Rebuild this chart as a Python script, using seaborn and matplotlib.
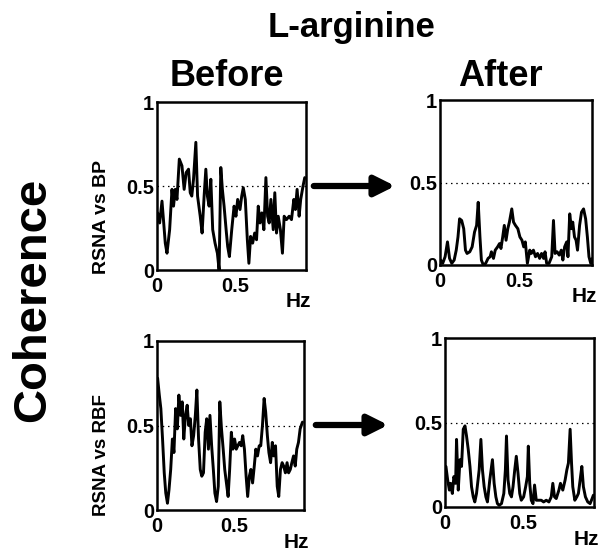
import numpy as np
import pandas as pd
import matplotlib
matplotlib.use("Agg")
import matplotlib.pyplot as plt
from matplotlib.patches import FancyArrowPatch
import seaborn as sns

# ---------------- data ----------------
freq_bp_before = [0.004, 0.017, 0.032, 0.043, 0.053, 0.064, 0.081, 0.096, 0.106, 0.117,
                  0.128, 0.143, 0.160, 0.174, 0.187, 0.202, 0.213, 0.223, 0.234, 0.249,
                  0.260, 0.277, 0.289, 0.302, 0.313, 0.323, 0.334, 0.345, 0.357, 0.372,
                  0.387, 0.398, 0.409, 0.419, 0.430, 0.443, 0.453, 0.464, 0.479, 0.494,
                  0.506, 0.517, 0.532, 0.543, 0.553, 0.566, 0.579, 0.589, 0.600, 0.613,
                  0.626, 0.638, 0.649, 0.660, 0.672, 0.685, 0.698, 0.709, 0.719, 0.730,
                  0.745, 0.755, 0.766, 0.777, 0.791, 0.804, 0.815, 0.830, 0.847, 0.862,
                  0.877, 0.887, 0.898, 0.911, 0.921, 0.936, 0.947]
coh_bp_before = [0.34, 0.28, 0.41, 0.28, 0.16, 0.10, 0.24, 0.48, 0.38, 0.48,
                 0.42, 0.66, 0.62, 0.48, 0.58, 0.60, 0.46, 0.44, 0.54, 0.76,
                 0.44, 0.32, 0.22, 0.44, 0.60, 0.44, 0.38, 0.54, 0.24, 0.16,
                 0.10, 0.00, 0.61, 0.48, 0.38, 0.24, 0.14, 0.08, 0.24, 0.38,
                 0.32, 0.42, 0.36, 0.44, 0.49, 0.42, 0.18, 0.04, 0.20, 0.16,
                 0.22, 0.18, 0.38, 0.28, 0.34, 0.24, 0.55, 0.32, 0.28, 0.42,
                 0.24, 0.46, 0.22, 0.32, 0.24, 0.10, 0.32, 0.30, 0.32, 0.30,
                 0.42, 0.36, 0.48, 0.32, 0.42, 0.50, 0.55]

freq_bp_after = [0.004, 0.017, 0.032, 0.047, 0.060, 0.074, 0.089, 0.102, 0.113, 0.123,
                 0.136, 0.149, 0.160, 0.170, 0.187, 0.202, 0.217, 0.230, 0.240, 0.251,
                 0.260, 0.272, 0.287, 0.302, 0.315, 0.323, 0.336, 0.347, 0.362, 0.374,
                 0.383, 0.394, 0.404, 0.415, 0.426, 0.436, 0.451, 0.462, 0.474, 0.489,
                 0.502, 0.515, 0.526, 0.536, 0.549, 0.564, 0.574, 0.587, 0.600, 0.613,
                 0.626, 0.638, 0.651, 0.660, 0.670, 0.685, 0.702, 0.713, 0.723, 0.736,
                 0.749, 0.762, 0.772, 0.783, 0.796, 0.804, 0.815, 0.826, 0.834, 0.845,
                 0.855, 0.864, 0.877, 0.889, 0.902, 0.915, 0.926, 0.936, 0.947, 0.957]
coh_bp_after = [0.03, 0.01, 0.05, 0.14, 0.04, 0.01, 0.03, 0.09, 0.17, 0.28,
                0.27, 0.22, 0.09, 0.07, 0.08, 0.11, 0.20, 0.24, 0.38, 0.17,
                0.03, 0.00, 0.01, 0.04, 0.05, 0.08, 0.04, 0.09, 0.11, 0.13,
                0.10, 0.17, 0.24, 0.15, 0.22, 0.26, 0.34, 0.26, 0.24, 0.22,
                0.17, 0.15, 0.11, 0.14, 0.01, 0.09, 0.07, 0.09, 0.05, 0.07,
                0.04, 0.07, 0.04, 0.08, 0.01, 0.01, 0.05, 0.27, 0.07, 0.08,
                0.06, 0.09, 0.03, 0.11, 0.14, 0.05, 0.31, 0.22, 0.26, 0.17,
                0.15, 0.09, 0.24, 0.32, 0.34, 0.28, 0.17, 0.05, 0.01, 0.04]

freq_rbf_before = [0.004, 0.015, 0.025, 0.036, 0.047, 0.057, 0.068, 0.078, 0.089, 0.100,
                   0.110, 0.121, 0.132, 0.142, 0.153, 0.164, 0.174, 0.185, 0.196, 0.206,
                   0.217, 0.227, 0.238, 0.249, 0.259, 0.270, 0.281, 0.291, 0.302, 0.313,
                   0.323, 0.334, 0.344, 0.355, 0.366, 0.376, 0.387, 0.398, 0.408, 0.419,
                   0.430, 0.440, 0.451, 0.462, 0.472, 0.483, 0.493, 0.504, 0.515, 0.525,
                   0.536, 0.547, 0.557, 0.568, 0.579, 0.589, 0.600, 0.610, 0.621, 0.632,
                   0.642, 0.653, 0.664, 0.674, 0.685, 0.696, 0.706, 0.717, 0.727, 0.738,
                   0.749, 0.759, 0.770, 0.781, 0.791, 0.802, 0.813, 0.823, 0.834, 0.845,
                   0.855, 0.866, 0.876, 0.887, 0.898, 0.908, 0.919, 0.930, 0.945]
coh_rbf_before = [0.78, 0.68, 0.60, 0.42, 0.22, 0.10, 0.04, 0.12, 0.24, 0.42,
                  0.34, 0.60, 0.48, 0.68, 0.56, 0.64, 0.42, 0.56, 0.62, 0.50,
                  0.54, 0.38, 0.44, 0.56, 0.71, 0.42, 0.24, 0.20, 0.22, 0.46,
                  0.54, 0.36, 0.56, 0.38, 0.24, 0.10, 0.05, 0.14, 0.64, 0.48,
                  0.36, 0.24, 0.16, 0.08, 0.24, 0.46, 0.36, 0.42, 0.36, 0.38,
                  0.40, 0.38, 0.44, 0.36, 0.20, 0.08, 0.20, 0.24, 0.16, 0.26,
                  0.36, 0.32, 0.38, 0.38, 0.50, 0.66, 0.58, 0.44, 0.34, 0.28,
                  0.40, 0.32, 0.38, 0.14, 0.08, 0.24, 0.28, 0.26, 0.22, 0.28,
                  0.22, 0.24, 0.28, 0.32, 0.26, 0.36, 0.40, 0.48, 0.52]

freq_rbf_after = [0.006, 0.017, 0.028, 0.036, 0.047, 0.057, 0.068, 0.074, 0.085, 0.096,
                  0.106, 0.117, 0.128, 0.138, 0.149, 0.160, 0.170, 0.181, 0.191, 0.202,
                  0.219, 0.230, 0.240, 0.251, 0.262, 0.272, 0.287, 0.304, 0.315, 0.326,
                  0.336, 0.347, 0.362, 0.377, 0.387, 0.394, 0.404, 0.415, 0.426, 0.436,
                  0.447, 0.457, 0.468, 0.479, 0.489, 0.504, 0.517, 0.528, 0.534, 0.543,
                  0.553, 0.564, 0.574, 0.585, 0.602, 0.617, 0.632, 0.649, 0.666, 0.681,
                  0.691, 0.702, 0.713, 0.730, 0.740, 0.755, 0.770, 0.781, 0.791, 0.802,
                  0.811, 0.819, 0.832, 0.845, 0.855, 0.866, 0.877, 0.887, 0.900, 0.915,
                  0.930, 0.943, 0.951]
coh_rbf_after = [0.24, 0.16, 0.10, 0.14, 0.08, 0.18, 0.14, 0.40, 0.10, 0.28,
                 0.24, 0.46, 0.48, 0.42, 0.34, 0.24, 0.12, 0.06, 0.03, 0.08,
                 0.22, 0.40, 0.22, 0.12, 0.06, 0.03, 0.16, 0.28, 0.14, 0.06,
                 0.02, 0.01, 0.02, 0.08, 0.22, 0.42, 0.16, 0.08, 0.06, 0.12,
                 0.22, 0.30, 0.20, 0.08, 0.04, 0.06, 0.12, 0.18, 0.36, 0.14,
                 0.04, 0.02, 0.13, 0.04, 0.04, 0.04, 0.03, 0.04, 0.03, 0.06,
                 0.14, 0.06, 0.05, 0.10, 0.14, 0.10, 0.16, 0.22, 0.26, 0.46,
                 0.26, 0.12, 0.04, 0.06, 0.08, 0.16, 0.24, 0.12, 0.06, 0.03,
                 0.02, 0.05, 0.07]

x_ticks = [0, 0.5]
x_tick_labels = ["0", "0.5"]
y_ticks = [0, 0.5, 1]
y_tick_labels = ["0", "0.5", "1"]

# ---------------- style ----------------
sns.set_theme(style="white")
plt.rcParams['font.family'] = ['Liberation Sans', 'DejaVu Sans']
plt.rcParams['font.weight'] = 'bold'

W, H = 599, 557
fig = plt.figure(figsize=(W / 100, H / 100), dpi=100)
fig.patch.set_facecolor("white")


def px_axes(left, top, right, bottom):
    return [left / W, 1 - bottom / H, (right - left) / W, (bottom - top) / H]


panels = [
    (freq_bp_before, coh_bp_before, px_axes(157, 102, 306, 270)),
    (freq_bp_after, coh_bp_after, px_axes(440, 100, 592, 265)),
    (freq_rbf_before, coh_rbf_before, px_axes(157, 341, 304, 510)),
    (freq_rbf_after, coh_rbf_after, px_axes(445, 338, 594, 507)),
]

for f, c, pos in panels:
    ax = fig.add_axes(pos)
    df = pd.DataFrame({"Hz": f, "Coherence": c})
    ax.axhline(0.5, color="black", ls=(0, (1.2, 3.0)), lw=0.9, zorder=1)
    sns.lineplot(data=df, x="Hz", y="Coherence", ax=ax, color="black",
                 lw=2.1, zorder=2)
    ax.set_xlim(0, 0.955)
    ax.set_ylim(0, 1)
    ax.set_xticks(x_ticks)
    ax.set_xticklabels(x_tick_labels)
    ax.set_yticks(y_ticks)
    ax.set_yticklabels(y_tick_labels)
    ax.tick_params(axis="both", length=0, labelsize=14.5, labelcolor="black")
    ax.tick_params(axis="x", pad=5)
    ax.tick_params(axis="y", pad=2)
    for lab in ax.get_xticklabels() + ax.get_yticklabels():
        lab.set_fontweight("bold")
    ax.set_xlabel("")
    ax.set_ylabel("")
    ax.grid(False)
    for s in ax.spines.values():
        s.set_color("black")
        s.set_linewidth(1.8)
    ax.text(0.95, -0.19, "Hz", transform=ax.transAxes, ha="center", va="center",
            fontsize=15, fontweight="bold", color="black")

# ---------------- titles / labels ----------------
def ftext(x, y, s, **kw):
    fig.text(x / W, 1 - y / H, s, ha="center", va="center", color="black",
             fontweight="bold", **kw)

ftext(352, 28, "L-arginine", fontsize=25)
ftext(227, 76, "Before", fontsize=26)
ftext(500, 76, "After", fontsize=26)
ftext(33, 300, "Coherence", fontsize=34, rotation=90)
ftext(101, 217, "RSNA vs BP", fontsize=14, rotation=90)
ftext(101, 455, "RSNA vs RBF", fontsize=13.5, rotation=90)

# ---------------- arrows ----------------
for (x0, x1, y) in [(311, 398, 186), (313, 391, 425)]:
    arr = FancyArrowPatch((x0 / W, 1 - y / H), (x1 / W, 1 - y / H),
                          transform=fig.transFigure, arrowstyle="-|>",
                          mutation_scale=30, lw=4.5, color="black")
    fig.add_artist(arr)

fig.savefig("out.png", dpi=100, facecolor="white")
